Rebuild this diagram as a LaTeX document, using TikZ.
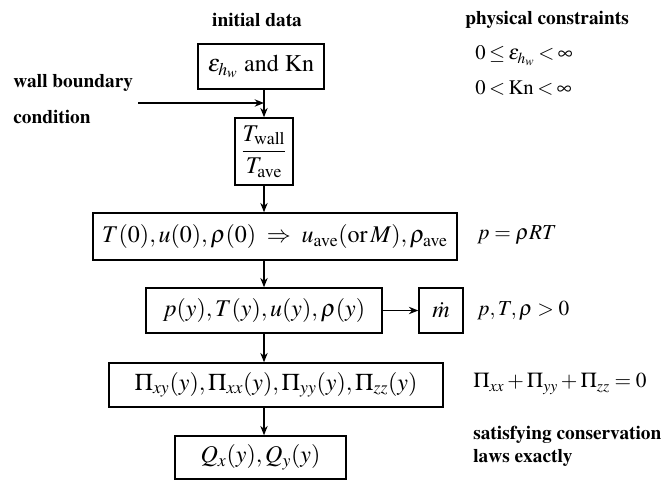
\documentclass[tikz,border=0pt]{standalone}
\usepackage[T1]{fontenc}
\usepackage{mathptmx}
\usetikzlibrary{arrows.meta}
\tikzset{
  box/.style={draw, line width=1.1pt, inner sep=0pt, font=\fontsize{18}{21}\selectfont},
  lab/.style={font=\fontsize{14.5}{17}\selectfont\bfseries, inner sep=0pt},
  cons/.style={font=\fontsize{16}{19}\selectfont, inner sep=0pt, anchor=west},
  tight/.style={font={\fontsize{15.5}{19}\selectfont\thickmuskip=3mu\relax}},
  conn/.style={line width=1.1pt, -{Stealth[length=7pt,width=5.5pt]}},
}
\begin{document}
\begin{tikzpicture}[x=0.75pt,y=-0.75pt]
\useasboundingbox (0,0) rectangle (664,480);
% boxes
\node[box, minimum width=126*0.75pt, minimum height=45*0.75pt] (b1) at (261,66.5) {$\varepsilon_{h_w}$\ and Kn};
\node[box, minimum width=58*0.75pt, minimum height=67*0.75pt] (b2) at (264,151.5) {$\displaystyle\frac{T_{\mathrm{wall}}}{T_{\mathrm{ave}}}$};
\node[box, minimum width=364*0.75pt, minimum height=47*0.75pt] (b3) at (275,236.5) {$T(0),u(0),\rho(0)\;\Rightarrow\;u_{\mathrm{ave}}(\mathrm{or}\,M),\rho_{\mathrm{ave}}$};
\node[box, minimum width=236*0.75pt, minimum height=45*0.75pt] (b4) at (264,310.5) {$p(y),T(y),u(y),\rho(y)$};
\node[box, minimum width=44*0.75pt, minimum height=45*0.75pt] (md) at (441,310.5) {$\dot m$};
\node[box, minimum width=334*0.75pt, minimum height=44*0.75pt] (b5) at (276,385) {$\Pi_{xy}(y),\Pi_{xx}(y),\Pi_{yy}(y),\Pi_{zz}(y)$};
\node[box, minimum width=171*0.75pt, minimum height=43*0.75pt] (b6) at (260.5,457.5) {$Q_x(y),Q_y(y)$};
% labels
\node[lab] (init) at (257,20) {initial data};
\node[lab, anchor=west] (phys) at (465,20) {physical constraints};
\node[lab, anchor=west] (wall1) at (13,83) {wall boundary};
\node[lab, anchor=west] (wall2) at (13,117) {condition};
\node[cons, tight] (c1) at (475,56) {$0\le\varepsilon_{h_w}<\infty$};
\node[cons, tight] (c2) at (475,88) {$0<\mathrm{Kn}<\infty$};
\node[cons] (c3) at (477,235) {$p=\rho RT$};
\node[cons] (c4) at (477,311) {$p,T,\rho>0$};
\node[cons] (c5) at (473,384) {$\Pi_{xx}+\Pi_{yy}+\Pi_{zz}=0$};
\node[lab, anchor=west] (s1) at (473,435) {satisfying conservation};
\node[lab, anchor=west] (s2) at (473,458) {laws exactly};
% connectors
\coordinate (ws) at (138,103);
\draw[conn] (b1.south -| b2.north) -- (b2.north);
\draw[conn] (ws) -- (ws -| b2.north);
\draw[conn] (b2.south) -- (b2.south |- b3.north);
\draw[conn] (b2.south |- b3.south) -- (b2.south |- b4.north);
\draw[conn] (b2.south |- b4.south) -- (b2.south |- b5.north);
\draw[conn] (b2.south |- b5.south) -- (b2.south |- b6.north);
\draw[conn] (b4.east) -- (md.west);
\end{tikzpicture}
\end{document}
